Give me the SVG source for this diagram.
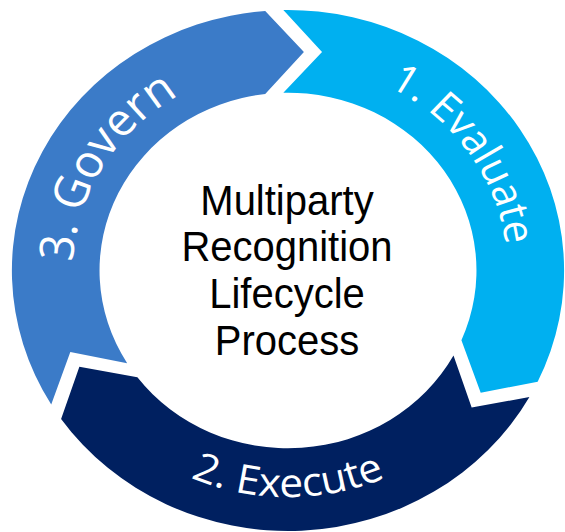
<svg xmlns="http://www.w3.org/2000/svg" xmlns:xlink="http://www.w3.org/1999/xlink" width="565" height="532" viewBox="0 0 565 532">
  <style>
    .ring-label { font-family: "Open Sans", "Noto Sans", "DejaVu Sans", sans-serif; font-size: 40px; fill: #FFFFFF; }
    .ring-label.big { font-size: 45px; }
    .center-label { font-family: "Liberation Sans", Arial, sans-serif; font-size: 40px; fill: #000000; text-anchor: middle; }
    .evaluate { fill: #00B0F0; }
    .execute { fill: #002060; }
    .govern { fill: #3B7BC8; }
  </style>
  <defs>
    <path id="arrowShape" d="M -4.4 -260.46 A 260.5 260.5 0 0 1 235.55 111.18 L 181.8 122.3 L 163.6 69.63 A 177.8 177.8 0 0 0 -4.4 -177.75 L 32.1 -218.6 Z"/>
    <path id="evalArc" d="M -103.5 -179.27 A 207 207 0 0 1 133.06 158.57"/>
    <path id="govArc" d="M -119.3 164.2 A 203 203 0 0 1 89.0 -182.5"/>
    <path id="execArc" d="M -226.1 19.8 A 227 227 0 0 0 226.1 19.8"/>
  </defs>
  <rect width="565" height="532" fill="#FFFFFF"/>
  <g id="connectors"/>
  <g transform="translate(288,270.5) scale(1.06,1)">
    <g id="node-evaluate">
      <use xlink:href="#arrowShape" href="#arrowShape" class="evaluate"/>
      <text class="ring-label"><textPath xlink:href="#evalArc" href="#evalArc" startOffset="50%" text-anchor="middle">1. Evaluate</textPath></text>
    </g>
    <g id="node-execute">
      <use xlink:href="#arrowShape" href="#arrowShape" class="execute" transform="rotate(120)"/>
      <text class="ring-label"><textPath xlink:href="#execArc" href="#execArc" startOffset="50%" text-anchor="middle">2. Execute</textPath></text>
    </g>
    <g id="node-govern">
      <use xlink:href="#arrowShape" href="#arrowShape" class="govern" transform="rotate(240)"/>
      <text class="ring-label big"><textPath xlink:href="#govArc" href="#govArc" startOffset="50%" text-anchor="middle">3. Govern</textPath></text>
    </g>
  </g>
  <g id="node-center" transform="scale(1,1.05)">
    <text class="center-label" x="287" y="204.8">Multiparty</text>
    <text class="center-label" x="287" y="249.0">Recognition</text>
    <text class="center-label" x="287" y="293.3">Lifecycle</text>
    <text class="center-label" x="287" y="338.1">Process</text>
  </g>
</svg>
